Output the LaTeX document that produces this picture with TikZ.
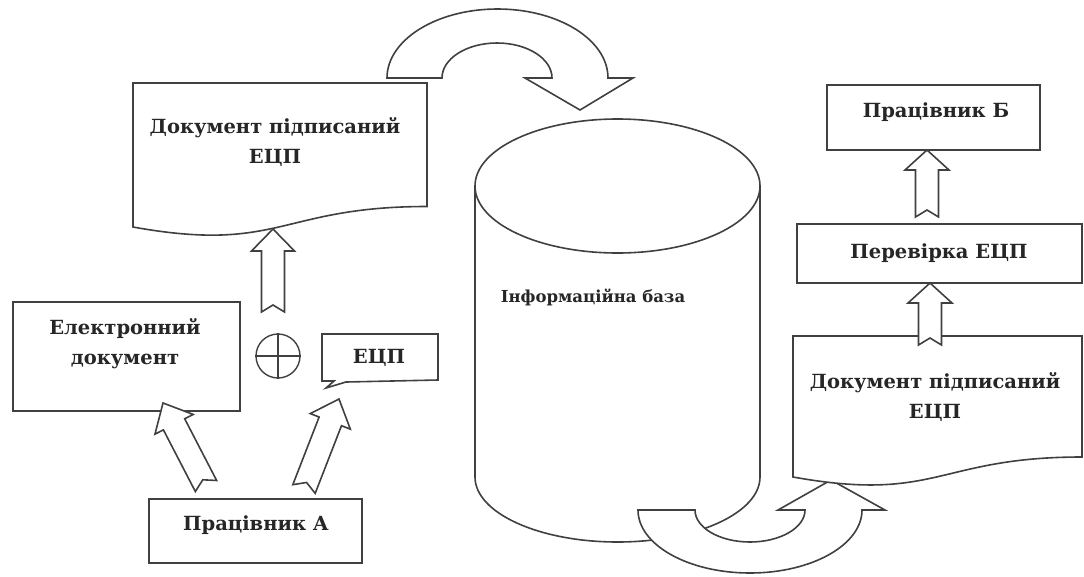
\documentclass[tikz,border=0pt]{standalone}
\usepackage{fontspec}
\setmainfont{DejaVu Serif}
\usetikzlibrary{calc}
\tikzset{
  shapeline/.style={draw=black!75, line width=1.6pt, fill=white, line join=miter},
  box/.style={shapeline, rectangle, inner sep=0pt},
  lbl/.style={font=\fontsize{19.5}{30}\selectfont\bfseries, align=center, inner sep=0pt, text=black!85},
  blockarr/.style={shapeline}
}
% tail, tip, shaft half width, head half width, head length
\newcommand{\notcharrow}[5]{%
  \coordinate (na-h) at ($(#2)!#5!(#1)$);
  \coordinate (na-n) at ($(#1)!7pt!(#2)$);
  \draw[blockarr] ($(#1)!#3!90:(#2)$) -- ($(na-h)!#3!90:(#2)$) -- ($(na-h)!#4!90:(#2)$)
     -- (#2) -- ($(na-h)!#4!-90:(#2)$) -- ($(na-h)!#3!-90:(#2)$) -- ($(#1)!#3!-90:(#2)$)
     -- (na-n) -- cycle;}
\begin{document}
\begin{tikzpicture}[x=1pt,y=-1pt]
\useasboundingbox (0,0) rectangle (1084,576);

% ---- left document shape
\draw[shapeline] (133,83) -- (427,83) -- (427,206.5) .. controls (280,206.5) and (280,253.6) .. (133,227) -- cycle;
\node[lbl] (doc1) at (275,142.5) {Документ підписаний\\ЕЦП};

% ---- electronic document
\node[box, minimum width=227pt, minimum height=109pt] (edoc) at (126.5,356.5) {};
\node[lbl] (edoct) at (125,344) {Електронний\\документ};

% ---- ECP callout
\draw[shapeline] (322,334) -- (438,334) -- (438,380) -- (346,382) -- (326,388) -- (334,381) -- (322,381) -- cycle;
\node[lbl] (ecp) at (379,358) {ЕЦП};

% ---- plus-circle
\node[draw=black!75, line width=1.4pt, circle, minimum size=44pt, inner sep=0pt] (oplus) at (278,356) {};
\draw[draw=black!75, line width=1.2pt] (oplus.north) -- (oplus.south) (oplus.west) -- (oplus.east);

% ---- worker A
\node[box, minimum width=213pt, minimum height=64pt] (wa) at (255.5,531) {};
\node[lbl] (wat) at (256,525) {Працівник А};

% ---- block arrows on the left
\coordinate (a1s) at (273,312); \coordinate (a1e) at (273,229);
\coordinate (a2s) at (206,486); \coordinate (a2e) at (163,403);
\coordinate (a3s) at (304,489); \coordinate (a3e) at (339,399);
\notcharrow{a1s}{a1e}{11.5pt}{21.5pt}{22pt}
\notcharrow{a2s}{a2e}{12pt}{21.5pt}{24pt}
\notcharrow{a3s}{a3e}{12pt}{21.5pt}{24pt}

% ---- top curved arrow
\draw[shapeline] (387,78) arc[start angle=180, end angle=360, x radius=110.5, y radius=69]
  -- (633,78) -- (580,110) -- (525,78) -- (552,78)
  arc[start angle=360, end angle=180, x radius=55, y radius=35] -- cycle;

% ---- cylinder
\draw[shapeline] (475,186) -- (475,477) arc[start angle=180, end angle=0, x radius=142.5, y radius=65] -- (760,186);
\draw[shapeline] (617.5,186) ellipse [x radius=142.5, y radius=67];
\node[lbl, font=\fontsize{16.5}{24}\selectfont\bfseries] (db) at (593,297) {Інформаційна база};

% ---- bottom curved arrow
\draw[shapeline] (638,510) arc[start angle=180, end angle=0, x radius=112, y radius=63]
  -- (885,510) -- (831,480) -- (778,510) -- (805,510)
  arc[start angle=0, end angle=180, x radius=55, y radius=32] -- cycle;

% ---- right document shape
\draw[shapeline] (793,336) -- (1082,336) -- (1082,457) .. controls (937.5,457) and (937.5,503) .. (793,477) -- cycle;
\node[lbl] (doc2) at (935,397) {Документ підписаний\\ЕЦП};

% ---- verify and worker B
\node[box, minimum width=285pt, minimum height=59pt] (ver) at (939.5,253.5) {};
\node[lbl] (vert) at (939,253) {Перевірка ЕЦП};
\node[box, minimum width=213pt, minimum height=65pt] (wb) at (933.5,117.5) {};
\node[lbl] (wbt) at (936,112) {Працівник Б};

\coordinate (a4s) at (930,345); \coordinate (a4e) at (930,283);
\coordinate (a5s) at (927,217); \coordinate (a5e) at (927,150);
\notcharrow{a4s}{a4e}{11.5pt}{22pt}{20pt}
\notcharrow{a5s}{a5e}{11.5pt}{22pt}{20pt}
\end{tikzpicture}
\end{document}
